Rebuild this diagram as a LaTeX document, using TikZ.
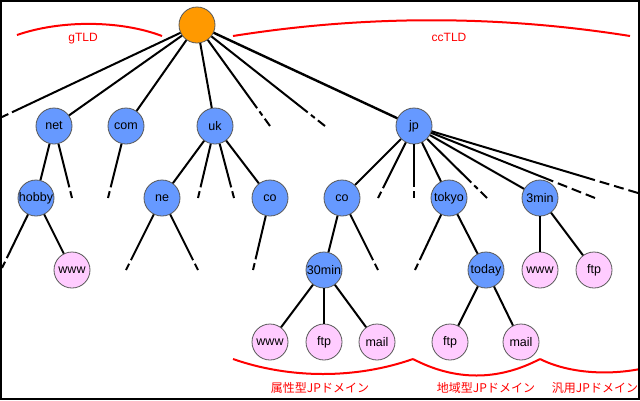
\documentclass[tikz,border=0pt]{standalone}
\usepackage{fontspec}
\setmainfont{Liberation Sans}
\newfontfamily\cjk{Noto Sans CJK JP}
\usetikzlibrary{calc}
\definecolor{nodeblue}{RGB}{102,153,255}
\definecolor{nodepink}{RGB}{255,204,255}
\definecolor{nodeorange}{RGB}{255,153,0}
\definecolor{lblred}{RGB}{255,0,0}
\tikzset{
  dom/.style={circle,draw=black!65,line width=0.8pt,minimum size=36pt,inner sep=0pt,
    font=\fontsize{12.5}{14}\selectfont},
  bluenode/.style={dom,fill=nodeblue},
  pinknode/.style={dom,fill=nodepink},
  rootnode/.style={dom,fill=nodeorange},
  edge/.style={line width=2pt},
  redarc/.style={draw=lblred,line width=2pt},
  redlbl/.style={text=lblred,font=\fontsize{12}{14}\selectfont},
  cjklbl/.style={text=lblred,font=\cjk\fontsize{12}{14}\selectfont},
}
\newcommand\stubA[2]{\draw[edge] (#1) -- ($(#2)!11pt!(#1)$); \draw[edge] ($(#2)!7pt!(#1)$) -- (#2);}
\newcommand\stubB[2]{\draw[edge] (#1) -- ($(#2)!22pt!(#1)$); \draw[edge] ($(#2)!18pt!(#1)$) -- ($(#2)!13pt!(#1)$); \draw[edge] ($(#2)!9pt!(#1)$) -- (#2);}
\newcommand\stubC[2]{\draw[edge] (#1) -- ($(#2)!45pt!(#1)$); \draw[edge,dash pattern=on 10pt off 5pt] ($(#2)!40pt!(#1)$) -- (#2);}
\begin{document}
\begin{tikzpicture}[x=1pt,y=-1pt]
\useasboundingbox (0,0) rectangle (640,400);
\fill[white] (0,0) rectangle (640,400);
% nodes
\node[rootnode] (root) at (197,25) {};
\node[bluenode] (net) at (54,126) {net};
\node[bluenode] (com) at (126,126) {com};
\node[bluenode] (uk) at (215,126) {uk};
\node[bluenode] (jp) at (414,126) {jp};
\node[bluenode] (hobby) at (36,198) {hobby};
\node[bluenode] (ne) at (162,198) {ne};
\node[bluenode] (couk) at (270,198) {co};
\node[bluenode] (cojp) at (342,198) {co};
\node[bluenode] (tokyo) at (449,198) {tokyo};
\node[bluenode] (min3) at (540,198) {3min};
\node[pinknode] (wwwh) at (72,270) {www};
\node[bluenode] (min30) at (324,270) {30min};
\node[bluenode] (today) at (486,270) {today};
\node[pinknode] (www3) at (540,270) {www};
\node[pinknode] (ftp3) at (594,270) {ftp};
\node[pinknode] (www30) at (270,342) {www};
\node[pinknode] (ftp30) at (324,342) {ftp};
\node[pinknode] (mail30) at (377,342) {mail};
\node[pinknode] (ftpt) at (450,342) {ftp};
\node[pinknode] (mailt) at (521,342) {mail};
% stub end points
\coordinate (r1) at (2,117);
\coordinate (r2) at (270,126);
\coordinate (r3) at (325,126);
\coordinate (n1) at (72,198);
\coordinate (c1) at (108,198);
\coordinate (u1) at (198,198);
\coordinate (u2) at (234,198);
\coordinate (j1) at (378,198);
\coordinate (j2) at (414,198);
\coordinate (j3) at (487,198);
\coordinate (j4) at (595,198);
\coordinate (j5) at (638,193);
\coordinate (h1) at (2,268);
\coordinate (e1) at (126,270);
\coordinate (e2) at (198,270);
\coordinate (k1) at (253,270);
\coordinate (o1) at (378,270);
\coordinate (t1) at (415,270);
% edges
\draw[edge] (root) -- (net);
\draw[edge] (root) -- (com);
\draw[edge] (root) -- (uk);
\draw[edge,line width=2.4pt] (root) -- (jp);
\stubA{root}{r1}
\stubB{root}{r2}
\stubB{root}{r3}
\draw[edge] (net) -- (hobby);
\stubA{net}{n1}
\stubA{com}{c1}
\draw[edge] (uk) -- (ne);
\draw[edge] (uk) -- (couk);
\stubA{uk}{u1}
\stubA{uk}{u2}
\draw[edge] (jp) -- (cojp);
\draw[edge] (jp) -- (tokyo);
\draw[edge] (jp) -- (min3);
\stubA{jp}{j1}
\stubA{jp}{j2}
\stubB{jp}{j3}
\stubC{jp}{j4}
\stubC{jp}{j5}
\draw[edge] (hobby) -- (wwwh);
\stubA{hobby}{h1}
\stubA{ne}{e1}
\stubA{ne}{e2}
\stubA{couk}{k1}
\draw[edge] (cojp) -- (min30);
\stubA{cojp}{o1}
\draw[edge] (tokyo) -- (today);
\stubA{tokyo}{t1}
\draw[edge] (min3) -- (www3);
\draw[edge] (min3) -- (ftp3);
\draw[edge] (min30) -- (www30);
\draw[edge] (min30) -- (ftp30);
\draw[edge] (min30) -- (mail30);
\draw[edge] (today) -- (ftpt);
\draw[edge] (today) -- (mailt);
% red arcs and labels
\draw[redarc] (17,35) .. controls (60,20) and (120,20) .. (162,36);
\draw[redarc] (233,36) .. controls (365,15) and (498,15) .. (630,36);
\node[redlbl] (gtld) at (83,39) {gTLD};
\node[redlbl] (cctld) at (449,37) {ccTLD};
\draw[redarc] (233,359) .. controls (290,379) and (356,379) .. (413,359);
\draw[redarc] (413,359) .. controls (455,381) and (498,381) .. (540,359);
\draw[redarc] (540,359) .. controls (570,374) and (610,375) .. (640,369);
\node[cjklbl] (lz) at (320,388) {属性型JPドメイン};
\node[cjklbl] (lc) at (486,388) {地域型JPドメイン};
\node[cjklbl] (lg) at (595,388) {汎用JPドメイン};
% frame
\draw[line width=2pt] (1,1) rectangle (639,399);
\end{tikzpicture}
\end{document}
